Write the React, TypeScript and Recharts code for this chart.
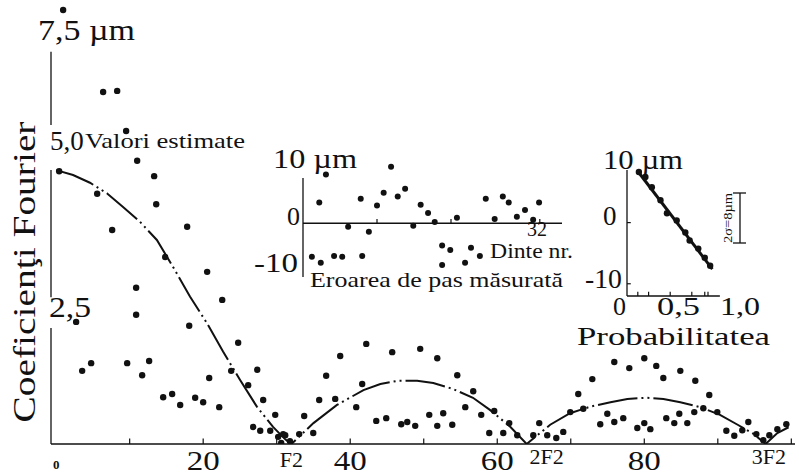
import { ComposedChart, Line, ReferenceLine, Scatter, XAxis, YAxis } from "recharts";

type Pt = { x: number; y: number };
const pts = (rows: number[][]): Pt[] => rows.map(([x, y]) => ({ x, y }));

const ink = "#111";
const serif = "'Liberation Serif', 'Times New Roman', serif";

// main plot: harmonic number vs Fourier coefficient (µm)
const harmonicTicks = [0, 20, 32, 40, 60, 64, 80, 96];
const harmonicLabels: Record<number, string> = {
  0: "0", 20: "20", 32: "F2", 40: "40", 60: "60", 64: "2F2", 80: "80", 96: "3F2",
};
const minorTicks = [10, 20, 30, 40, 50, 60, 70, 80, 90, 100];
const coefTicks = [2.5, 5, 7.5];

// estimated envelope, one lobe per gear-frequency harmonic
const envelopeLobe1 = [
  [0, 4.98], [2.3, 4.89], [4.6, 4.75], [6.9, 4.56], [9.1, 4.31], [11.4, 4.04], [13.7, 3.71],
  [15.9, 3.22], [18.2, 2.68], [20.5, 2.2], [22.7, 1.68], [25, 1.17], [27.3, 0.68], [29.5, 0.31],
  [31.2, 0.08], [32, 0],
];
const envelopeLobe2 = [
  [35, 0.38], [38.2, 0.71], [41.8, 0.98], [44.1, 1.09], [46.5, 1.15], [49.1, 1.15], [51.3, 1.11],
  [54, 1.0], [56.7, 0.84], [59, 0.62], [61.8, 0.31], [64, 0],
];
const envelopeLobe3 = [
  [67.2, 0.35], [69.9, 0.56], [72.7, 0.68], [75.4, 0.76], [77.7, 0.82], [80.4, 0.84], [82.6, 0.82],
  [84.9, 0.76], [87.6, 0.67], [90.3, 0.53], [92.7, 0.35], [94.8, 0.19], [96.5, 0], [98.1, 0.2],
  [100, 0.33],
];

// measured coefficients
const coefLobe1 = [
  [0.95, 7.89], [6.39, 6.4], [8.3, 6.42], [9.52, 5.69], [11.02, 5.15], [13.33, 4.87], [0.41, 4.96],
  [5.58, 4.55], [13.61, 4.36], [7.62, 3.89], [17.82, 3.95], [14.83, 3.4], [20.54, 3.13],
  [10.88, 2.84], [22.59, 2.62], [2.72, 2.22], [10.88, 2.35], [18.1, 2.15], [24.76, 1.84],
  [3.54, 1.33], [4.76, 1.47], [9.66, 1.47], [12.65, 1.51], [11.7, 1.25], [23.81, 1.33],
  [27.35, 1.35], [20.82, 1.2], [26.12, 1.07], [14.56, 0.85], [15.78, 0.91], [16.87, 0.71],
  [18.91, 0.84], [20.0, 0.76], [22.18, 0.67], [28.16, 0.8], [29.8, 0.53], [26.8, 0.31],
  [27.76, 0.24], [29.12, 0.24], [30.2, 0.13], [31.16, 0.16], [30.61, 0.02], [30.88, 0.18],
  [31.8, 0.05],
];
const coefLobe2 = [
  [33.06, 0.18], [34.97, 0.2], [33.74, 0.51], [35.78, 0.8], [37.96, 0.82], [36.73, 1.24],
  [38.64, 1.6], [41.63, 1.09], [42.18, 1.82], [40.82, 0.67], [43.54, 0.42], [44.9, 0.47],
  [45.71, 1.67], [46.94, 0.36], [47.76, 0.4], [48.84, 0.33], [49.52, 1.73], [50.75, 0.53],
  [51.84, 1.56], [51.84, 0.33], [52.65, 0.56], [53.88, 0.35], [54.56, 1.25], [55.65, 0.67],
  [56.73, 0.96], [57.82, 0.53], [59.59, 0.6], [58.91, 0.2], [60.82, 0.2], [61.63, 0.38],
  [62.72, 0.16],
];
const coefLobe3 = [
  [64.9, 0.16], [65.71, 0.38], [66.8, 0.16], [68.03, 0.11], [68.98, 0.22], [71.02, 0.91],
  [69.93, 0.58], [71.7, 0.64], [72.93, 1.18], [74.01, 0.36], [74.97, 0.55], [75.92, 1.49],
  [75.92, 0.4], [77.14, 0.47], [77.96, 1.38], [79.05, 0.29], [80.0, 1.56], [80.0, 0.38],
  [80.82, 0.27], [81.63, 1.42], [82.59, 1.2], [82.99, 0.47], [84.08, 0.38], [84.9, 1.33],
  [84.76, 0.55], [85.85, 0.38], [86.8, 0.58], [86.94, 1.15], [88.03, 0.65], [88.84, 0.89],
  [89.93, 0.58], [91.16, 0.24], [92.24, 0.15], [93.33, 0.25], [94.15, 0.4], [95.24, 0.18],
  [96.19, 0.07], [97.01, 0.16], [98.1, 0.27], [99.32, 0.36],
];

// inset: measured pitch error per tooth (µm)
const toothTicks = [10, 20, 32];
const pitchError = [
  [1.2, -7.8], [2.4, -9.2], [2.2, 4.8], [3.1, 11.3], [4.2, -7.6], [5.3, -7.8], [6.1, -0.8],
  [7.8, 5.7], [8.0, -7.6], [8.9, -2.0], [10.0, 4.1], [10.9, 7.1], [11.9, 13.1], [12.8, 6.2],
  [13.8, 8.0], [14.9, -0.6], [15.9, 4.3], [16.9, 2.4], [17.8, 0.3], [18.8, -5.2], [18.8, -9.7],
  [19.9, -6.2], [20.8, 1.3], [21.9, -9.2], [22.7, -5.7], [23.9, -7.6], [24.7, 5.7], [25.9, 1.0],
  [27.0, 6.2], [27.8, 4.8], [28.9, 1.5], [30.0, 3.1], [31.1, 0.8], [31.9, 4.8],
];

// inset: pitch error on probability scale
const probTicks = [0.1, 0.2, 0.4, 0.6, 0.72, 0.75];
const probErrorDots = [
  [0.11, 8.27], [0.17, 7.45], [0.23, 5.8], [0.31, 3.66], [0.37, 1.52], [0.46, 0.36],
  [0.54, -1.61], [0.58, -2.93], [0.66, -4.25], [0.72, -5.73], [0.77, -7.05],
];
const probFit = [[0.1, 8.4], [0.79, -7.6]];

const envelope = pts([...envelopeLobe1, ...envelopeLobe2, ...envelopeLobe3]);
const coefDots = pts([...coefLobe1, ...coefLobe2, ...coefLobe3]);

// y-axis is drawn in runs so the tick labels sit in the gaps
const coefAxisRuns = [[0, 2.11], [2.67, 4.98], [5.8, 7.13]];

const dot = (r: number) => (p: any) => <circle cx={p.cx} cy={p.cy} r={r} fill={ink} />;

const HarmonicTick = (props: any) => {
  const { x, y, payload } = props;
  const v = payload.value as number;
  const label = harmonicLabels[v];
  if (v === 0) {
    return (
      <text x={x} y={y + 25} textAnchor="middle" fontFamily={serif} fontSize={13} fontWeight="bold" fill={ink}>
        {label}
      </text>
    );
  }
  if (label.includes("F")) {
    const shift = v === 64 ? 20 : v === 96 ? 7 : 0;
    return (
      <text x={x + shift} y={y + (v === 32 ? 23 : 20)} textAnchor="middle" fontFamily={serif} fontSize={22} fill={ink}>
        {label}
      </text>
    );
  }
  return (
    <text x={x} y={y + 26} textAnchor="middle" fontFamily={serif} fontSize={28} textLength={33} lengthAdjust="spacingAndGlyphs" fill={ink}>
      {label}
    </text>
  );
};

const CoefTick = (props: any) => {
  const { x, y, payload } = props;
  const v = payload.value as number;
  const text = v.toFixed(1).replace(".", ",") + (v === 7.5 ? " µm" : "");
  const place: Record<number, [number, number, number, number | undefined]> = {
    2.5: [-2, 10.5, 29, 42],
    5: [-1, -19, 27, undefined],
    7.5: [-13, 8.5, 29, 97],
  };
  const [dx, dy, size, len] = place[v];
  return (
    <text x={x + dx} y={y + dy} textAnchor="start" fontFamily={serif} fontSize={size} fill={ink}
      textLength={len} lengthAdjust={len ? "spacingAndGlyphs" : undefined}>
      {text}
    </text>
  );
};

const Txt = ({ x, y, size, len, children, anchor = "start", transform }: any) => (
  <text x={x} y={y} fontFamily={serif} fontSize={size} fill={ink} textAnchor={anchor} transform={transform}
    textLength={len} lengthAdjust={len ? "spacingAndGlyphs" : undefined}>
    {children}
  </text>
);

export default function App() {
  return (
    <div style={{ position: "absolute", left: 0, top: 0, width: 799, height: 476, background: "#fff" }}>
      <div style={{ position: "absolute", left: 0, top: 0 }}>
        <ComposedChart width={799} height={476} margin={{ top: 4, right: 4, bottom: 0, left: 0 }}>
          <XAxis type="number" dataKey="x" domain={[-0.7, 100.5]} ticks={harmonicTicks} interval={0}
            height={32} tickSize={0} tickMargin={0} tickLine={false}
            axisLine={{ stroke: ink, strokeWidth: 1.5 }} tick={HarmonicTick} allowDataOverflow />
          <YAxis type="number" domain={[0, 8]} ticks={coefTicks} width={51} axisLine={false}
            tickLine={false} tickSize={0} tickMargin={0} tick={CoefTick} allowDataOverflow />
          {coefAxisRuns.map(([a, b]) => (
            <ReferenceLine key={`run${a}`} segment={[{ x: -0.7, y: a }, { x: -0.7, y: b }]} stroke={ink} strokeWidth={1.3} />
          ))}
          {minorTicks.map((t) => (
            <ReferenceLine key={`mt${t}`} segment={[{ x: t, y: 0 }, { x: t, y: 0.1 }]} stroke={ink} strokeWidth={1.2} />
          ))}
          <Line data={envelope} dataKey="y" type="linear" stroke={ink} strokeWidth={2}
            strokeDasharray="40 4 2 4 2 4" dot={false} activeDot={false} isAnimationActive={false} />
          <Scatter data={coefDots} dataKey="y" shape={dot(3.2)} isAnimationActive={false} />
        </ComposedChart>
      </div>

      <div style={{ position: "absolute", left: 293, top: 153 }}>
        <ComposedChart width={279} height={134} margin={{ top: 10, right: 10, bottom: 10, left: 10 }}>
          <XAxis type="number" dataKey="x" domain={[0, 35]} hide />
          <YAxis type="number" domain={[-12.5, 14]} hide />
          <ReferenceLine y={0} stroke={ink} strokeWidth={1.3} />
          <ReferenceLine segment={[{ x: 0, y: -12.5 }, { x: 0, y: 10.5 }]} stroke={ink} strokeWidth={1.3} />
          {toothTicks.map((t) => (
            <ReferenceLine key={`tt${t}`} segment={[{ x: t, y: 0 }, { x: t, y: 1 }]} stroke={ink} strokeWidth={1.2} />
          ))}
          <Scatter data={pts(pitchError)} dataKey="y" shape={dot(3)} isAnimationActive={false} />
        </ComposedChart>
      </div>

      <div style={{ position: "absolute", left: 617, top: 160 }}>
        <ComposedChart width={128} height={146} margin={{ top: 10, right: 10, bottom: 10, left: 10 }}>
          <XAxis type="number" dataKey="x" domain={[0, 1]} hide />
          <YAxis type="number" domain={[-12, 8.6]} hide />
          <ReferenceLine segment={[{ x: 0, y: -12 }, { x: 0, y: 8.6 }]} stroke={ink} strokeWidth={1.3} />
          <ReferenceLine segment={[{ x: 0, y: -12 }, { x: 0.86, y: -12 }]} stroke={ink} strokeWidth={1.3} />
          {[0, -10].map((t) => (
            <ReferenceLine key={`py${t}`} segment={[{ x: 0, y: t }, { x: 0.035, y: t }]} stroke={ink} strokeWidth={1.2} />
          ))}
          {probTicks.map((t) => (
            <ReferenceLine key={`px${t}`} segment={[{ x: t, y: -12 }, { x: t, y: -11.3 }]} stroke={ink} strokeWidth={1.2} />
          ))}
          <Line data={pts(probFit)} dataKey="y" type="linear" stroke={ink} strokeWidth={3}
            dot={false} activeDot={false} isAnimationActive={false} />
          <Scatter data={pts(probErrorDots)} dataKey="y" shape={dot(3.2)} isAnimationActive={false} />
        </ComposedChart>
      </div>

      <svg width={799} height={476} style={{ position: "absolute", left: 0, top: 0, pointerEvents: "none" }}>
        <Txt x={33} y={0} size={32} len={301} anchor="middle" transform="translate(35,272) rotate(-90) translate(-33,0)">
          Coeficienţi Fourier
        </Txt>
        <Txt x={85} y={148} size={22} len={160}>Valori estimate</Txt>

        <Txt x={273} y={168} size={27} len={84}>10 µm</Txt>
        <Txt x={287} y={225} size={26}>0</Txt>
        <Txt x={254} y={272} size={27} len={44}>-10</Txt>
        <Txt x={527} y={236} size={21} len={20}>32</Txt>
        <Txt x={490} y={258} size={20} len={83}>Dinte nr.</Txt>
        <Txt x={310} y={287} size={21} len={253}>Eroarea de pas măsurată</Txt>

        <Txt x={603} y={169} size={27} len={80}>10 µm</Txt>
        <Txt x={603} y={225} size={27}>0</Txt>
        <Txt x={585} y={288} size={27} len={37}>-10</Txt>
        <Txt x={613} y={315} size={26}>0</Txt>
        <Txt x={657} y={315} size={26} len={43}>0,5</Txt>
        <Txt x={720} y={315} size={26} len={40}>1,0</Txt>
        <Txt x={577} y={345} size={26} len={193}>Probabilitatea</Txt>

        <line x1={740} y1={193} x2={740} y2={243} stroke={ink} strokeWidth={1.3} />
        <line x1={733} y1={193} x2={746} y2={193} stroke={ink} strokeWidth={1.3} />
        <line x1={733} y1={243} x2={746} y2={243} stroke={ink} strokeWidth={1.3} />
        <Txt x={0} y={0} size={12} len={50} anchor="middle" transform="translate(732,218) rotate(-90)">
          2σ=8µm
        </Txt>
      </svg>
    </div>
  );
}
